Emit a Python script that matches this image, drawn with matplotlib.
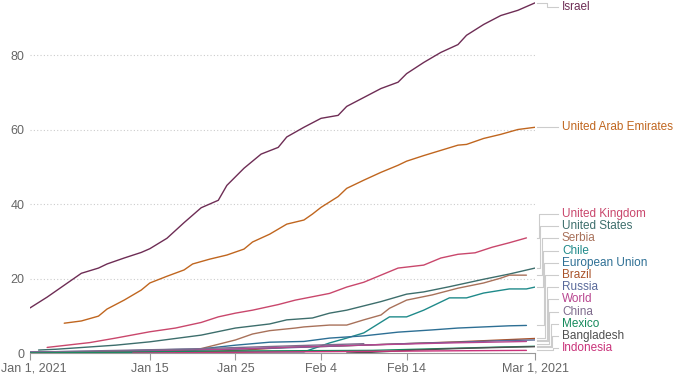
import matplotlib.pyplot as plt
from matplotlib.transforms import ScaledTranslation

plt.rcParams['font.family'] = ['Liberation Sans', 'DejaVu Sans']

# days since Jan 1, 2021 and doses per 100 people
countries = ["Israel", "United Arab Emirates", "United Kingdom", "United States",
             "Serbia", "Chile", "European Union", "Brazil", "Russia", "World",
             "China", "Mexico", "Bangladesh", "Indonesia"]
colors = ["#6e2d55", "#c0661f", "#c9476c", "#3d6e6c", "#a8715a", "#1f8a8a",
          "#2d6f94", "#a9532a", "#59699a", "#b8458f", "#7e6b8d", "#168a5c",
          "#4f4f4f", "#c9337a"]

israel_d = [0, 2, 4, 6, 8, 9, 11, 13, 14, 16, 18, 20, 22, 23, 25, 27, 29, 30, 32, 34,
            36, 37, 39, 41, 43, 44, 46, 48, 50, 51, 53, 55, 57, 59]
israel_v = [12.1, 15, 18.2, 21.4, 22.8, 23.9, 25.5, 27, 28, 30.8, 35, 39, 41, 45, 49.6,
            53.4, 55.2, 58, 60.6, 63, 63.8, 66.2, 68.6, 71, 72.7, 75, 78, 80.7, 82.8,
            85.3, 88.2, 90.6, 92, 94]

uae_d = [4, 6, 8, 9, 11, 13, 14, 16, 18, 19, 21, 23, 25, 26, 28, 30, 32, 33, 34, 36, 37,
         39, 41, 43, 44, 46, 48, 50, 51, 53, 55, 57, 59]
uae_v = [8.0, 8.6, 9.9, 11.8, 14.2, 16.9, 18.8, 20.6, 22.3, 23.9, 25.2, 26.3, 27.9, 29.8,
         31.9, 34.6, 35.7, 37.3, 39.1, 42, 44.2, 46.4, 48.5, 50.4, 51.5, 53, 54.4, 55.8,
         56, 57.6, 58.7, 60, 60.6]

uk_d = [2, 7, 10, 14, 17, 20, 22, 24, 26, 29, 31, 35, 37, 39, 41, 43, 46, 48, 50, 52,
        54, 56, 58]
uk_v = [1.5, 2.8, 4.0, 5.7, 6.7, 8.2, 9.7, 10.7, 11.5, 13.0, 14.2, 16, 17.7, 19, 20.9,
        22.8, 23.6, 25.5, 26.5, 26.9, 28.4, 29.6, 30.9]

us_d = [1, 3, 10, 14, 20, 24, 28, 30, 33, 35, 37, 41, 44, 46, 49, 51, 53, 56, 59]
us_v = [0.8, 1.0, 2.1, 3.0, 4.8, 6.7, 7.8, 8.9, 9.4, 10.7, 11.5, 13.8, 15.8, 16.4, 17.8,
        18.8, 19.8, 21.2, 22.8]

serbia_d = [4, 12, 19, 24, 26, 28, 31, 32, 35, 37, 39, 41, 42, 44, 47, 50, 53, 55, 56, 58]
serbia_v = [0.2, 0.3, 0.6, 3.5, 5.1, 6.0, 6.7, 7.0, 7.5, 7.5, 8.9, 10.2, 12, 14.2, 15.6,
            17.4, 18.8, 20.1, 20.9, 20.9]

chile_d = [0, 20, 32, 35, 37, 39, 42, 44, 46, 49, 51, 53, 56, 58, 59]
chile_v = [0.05, 0.3, 0.3, 2.7, 4.0, 5.4, 9.7, 9.7, 11.5, 14.8, 14.8, 16.1, 17.2, 17.2, 17.7]

eu_d = [0, 7, 14, 20, 24, 28, 32, 35, 39, 43, 47, 50, 53, 56, 58]
eu_v = [0.1, 0.3, 0.8, 1.1, 2.1, 2.9, 3.1, 4.0, 4.6, 5.6, 6.2, 6.7, 7.0, 7.3, 7.4]

brazil_d = [17, 20, 25, 30, 35, 40, 45, 50, 55, 59]
brazil_v = [0.0, 0.3, 0.8, 1.5, 1.8, 2.2, 2.6, 3.0, 3.5, 3.9]

russia_d = [0, 10, 20, 30, 35, 40, 45, 50, 55, 59]
russia_v = [0.3, 0.5, 0.8, 1.4, 1.8, 2.2, 2.6, 2.9, 3.3, 3.5]

world_d = [0, 7, 14, 21, 28, 35, 42, 49, 56, 58]
world_v = [0.15, 0.3, 0.5, 0.9, 1.4, 1.9, 2.3, 2.7, 3.0, 3.1]

china_d = [0, 8, 19, 26, 33, 39]
china_v = [0.2, 0.6, 1.1, 1.6, 2.1, 2.5]

mexico_d = [0, 10, 20, 30, 40, 45, 50, 55, 59]
mexico_v = [0.02, 0.2, 0.5, 0.6, 0.7, 1.0, 1.3, 1.6, 1.8]

bangladesh_d = [37, 40, 45, 50, 55, 59]
bangladesh_v = [0.0, 0.2, 0.8, 1.2, 1.5, 1.7]

indonesia_d = [12, 20, 30, 40, 50, 58]
indonesia_v = [0.0, 0.1, 0.3, 0.45, 0.6, 0.7]

days = [israel_d, uae_d, uk_d, us_d, serbia_d, chile_d, eu_d, brazil_d, russia_d,
        world_d, china_d, mexico_d, bangladesh_d, indonesia_d]
values = [israel_v, uae_v, uk_v, us_v, serbia_v, chile_v, eu_v, brazil_v, russia_v,
          world_v, china_v, mexico_v, bangladesh_v, indonesia_v]

tick_days = [0, 14, 24, 34, 44, 59]
tick_labels = ["Jan 1, 2021", "Jan 15", "Jan 25", "Feb 4", "Feb 14", "Mar 1, 2021"]

fig = plt.figure(figsize=(6.76, 3.8), dpi=100)
ax = fig.add_axes([30 / 676, 27 / 380, 505 / 676, 353 / 380])

for d, v, c in zip(days, values, colors):
    ax.plot(d, v, color=c, lw=1.0, solid_capstyle='round')

ax.set_xlim(0, 59)
ax.set_ylim(0, 94.77)
ax.set_yticks([0, 20, 40, 60, 80])
ax.set_xticks(tick_days)
ax.set_xticklabels(tick_labels)
ax.tick_params(axis='y', length=0, pad=4, labelsize=9, labelcolor='#666666')
ax.tick_params(axis='x', length=5, width=0.8, color='#999999', pad=2,
               labelsize=9, labelcolor='#666666')
# keep the first date label inside the figure
first = ax.get_xticklabels()[0]
first.set_transform(first.get_transform() + ScaledTranslation(4 / 100, 0, fig.dpi_scale_trans))
ax.yaxis.grid(True, linestyle=(0, (1, 2)), color='#cccccc', lw=0.8)
ax.set_axisbelow(True)
for s in ['top', 'right', 'left']:
    ax.spines[s].set_visible(False)
ax.spines['bottom'].set_color('#999999')
ax.spines['bottom'].set_linewidth(0.8)

# right-hand labels with elbow leaders
px = 8.56  # pixels per day
lead_start = 59 + 2 / px
lead_end = 59 + 23 / px
text_x = 59 + 27 / px
lc = '#cccccc'

ends = [v[-1] for v in values]

# Israel and UAE
isr_y = min(ends[0], 92.9)
ax.plot([lead_start, 59 + 12 / px, 59 + 12 / px, lead_end], [ends[0], ends[0], isr_y, isr_y],
        color=lc, lw=0.8, clip_on=False)
ax.plot([lead_start, lead_end], [ends[1], ends[1]], color=lc, lw=0.8, clip_on=False)
ax.text(text_x, isr_y, countries[0], color=colors[0], fontsize=8.5, va='center')
ax.text(text_x, ends[1], countries[1], color=colors[1], fontsize=8.5, va='center')

# stacked cluster, spread upward from the bottom
cluster = sorted(range(2, len(countries)), key=lambda i: ends[i])
gap = 12.2 / 3.725
pos = {}
prev = None
for i in cluster:
    y = max(ends[i], 1.3) if prev is None else max(ends[i], prev + gap)
    pos[i] = y
    prev = y

for rank, i in enumerate(reversed(cluster)):
    tx = 59 + (4 + rank * 1.3) / px
    ax.plot([lead_start, tx, tx, lead_end], [ends[i], ends[i], pos[i], pos[i]],
            color=lc, lw=0.8, clip_on=False)
    ax.text(text_x, pos[i], countries[i], color=colors[i], fontsize=8.5, va='center')

fig.savefig("out.png", dpi=100)
